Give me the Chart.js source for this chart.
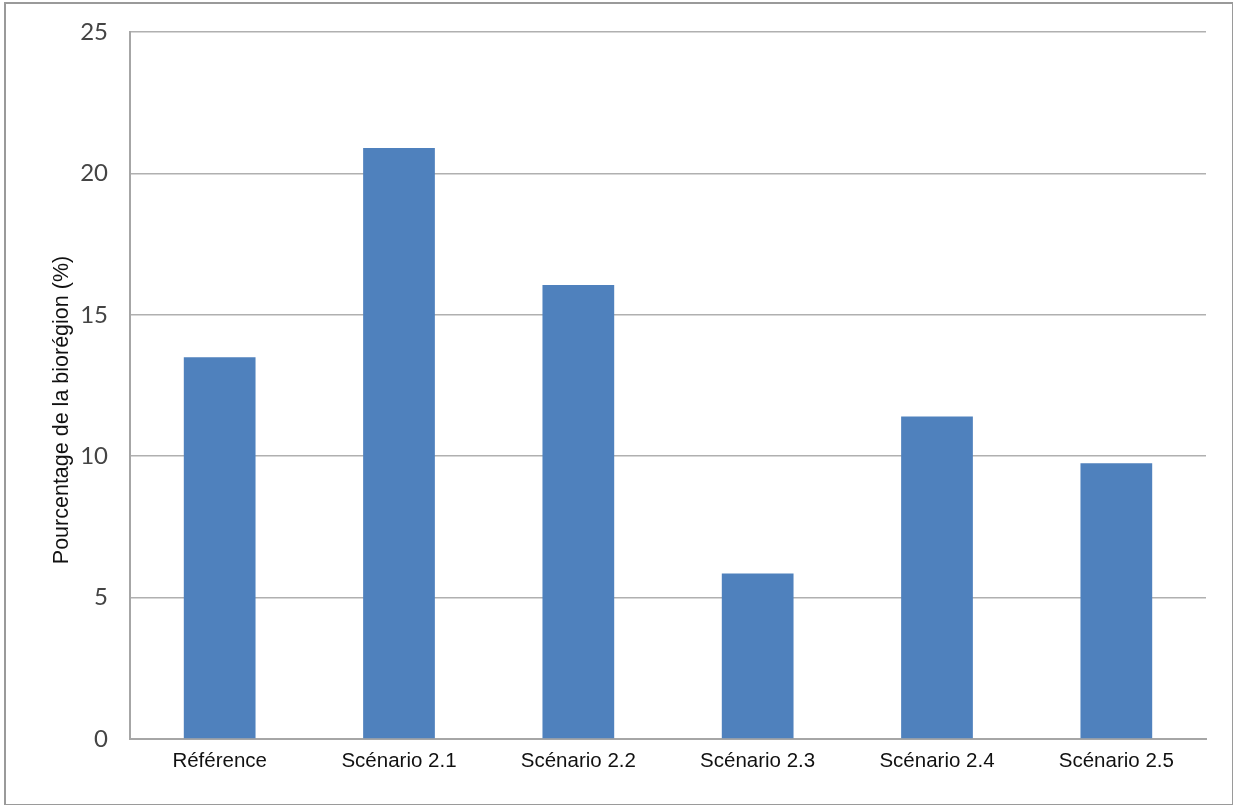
<!DOCTYPE html>
<html>
<head>
<meta charset="utf-8">
<script src="https://cdn.jsdelivr.net/npm/chart.js@4"></script>
<style>
  body { margin: 0; background: #fff; }
  #frame {
    position: absolute; left: 4px; top: 2px;
    width: 1226px; height: 800px;
    border: 2px solid #9a9a9a;
    background: #fff;
  }
</style>
</head>
<body>
<div id="frame"><canvas id="chart"></canvas></div>
<script>
// data
var categories = ['Référence', 'Scénario 2.1', 'Scénario 2.2', 'Scénario 2.3', 'Scénario 2.4', 'Scénario 2.5'];
var values = [13.5, 20.9, 16.05, 5.85, 11.4, 9.75];
var yTicks = [0, 5, 10, 15, 20, 25];
var yTitle = 'Pourcentage de la biorégion (%)';

// y title sits a bit below the middle of the axis in the original, so draw it by hand
var yTitlePlugin = {
    id: 'yTitle',
    afterDraw: function (chart) {
        var c = chart.ctx;
        c.save();
        c.translate(56, 406);
        c.rotate(-Math.PI / 2);
        c.font = '21.5px "Liberation Sans"';
        c.fillStyle = '#111';
        c.textAlign = 'center';
        c.textBaseline = 'middle';
        c.fillText(yTitle, 0, 0);
        c.restore();
    }
};

var ctx = document.getElementById('chart').getContext('2d');
var chart = new Chart(ctx, {
    type: 'bar',
    data: {
        labels: categories,
        datasets: [{
            data: values,
            backgroundColor: '#4f81bd',
            borderWidth: 0,
            categoryPercentage: 1,
            barPercentage: 0.4
        }]
    },
    options: {
        responsive: true,
        maintainAspectRatio: false,
        animation: false,
        layout: { padding: { left: 0, right: 26, top: 28, bottom: 0 } },
        plugins: { legend: { display: false }, tooltip: { enabled: false } },
        scales: {
            x: {
                grid: { display: false, drawTicks: false },
                border: { color: '#a6a6a6', width: 2 },
                ticks: { color: '#111', padding: 10, font: { family: 'Liberation Sans', size: 20.5 } },
                afterFit: function (axis) { axis.height = 65; axis.paddingLeft = 0; axis.paddingRight = 0; }
            },
            y: {
                min: 0,
                max: 25,
                afterBuildTicks: function (axis) {
                    axis.ticks = yTicks.map(function (v) { return { value: v }; });
                },
                grid: { color: '#b0b0b0', lineWidth: 1.5, drawTicks: false },
                border: { color: '#a6a6a6', width: 2 },
                ticks: { color: '#444', padding: 22, font: { family: 'Lato', size: 24 } },
                afterFit: function (axis) { axis.width = 124; axis.paddingTop = 0; axis.paddingBottom = 0; }
            }
        }
    },
    plugins: [yTitlePlugin]
});
</script>
</body>
</html>
